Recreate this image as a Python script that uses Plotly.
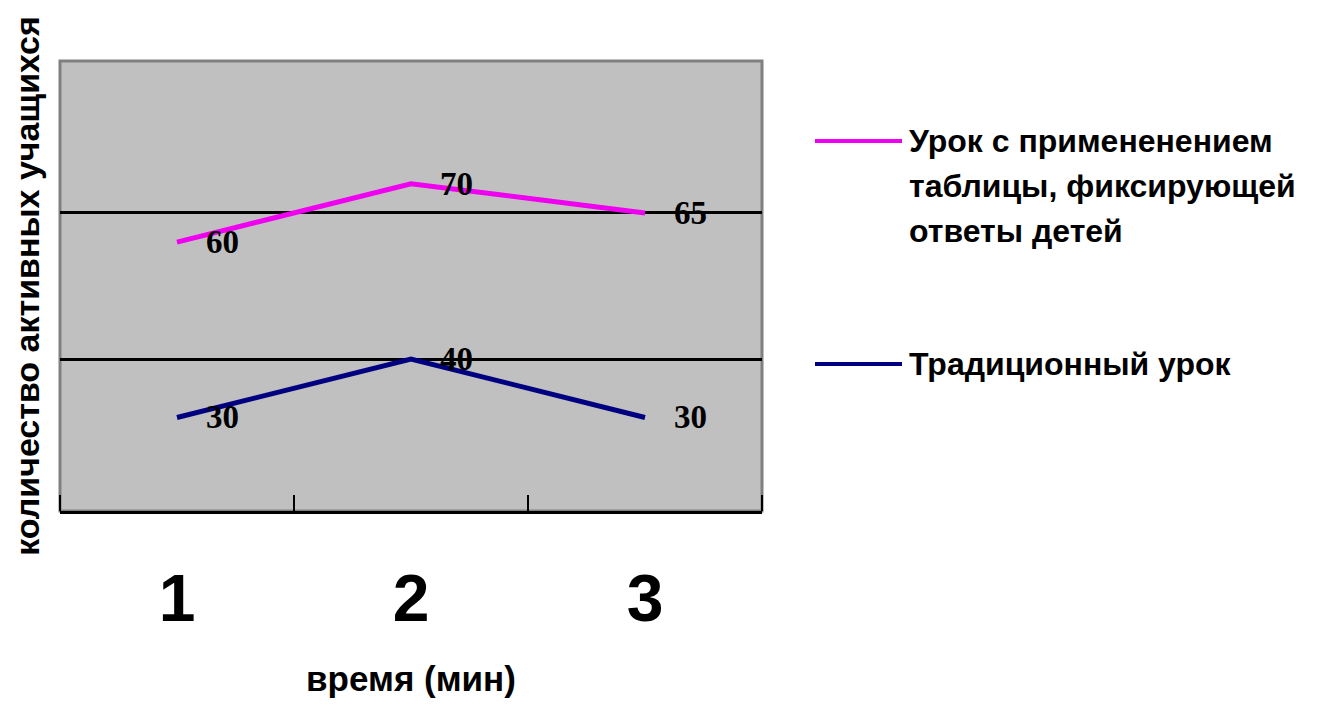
import plotly.graph_objects as go

# ---- data ----
categories = ["1", "2", "3"]
series_names = [
    "Урок с примененением<br>таблицы, фиксирующей<br>ответы детей",
    "Традиционный урок",
]
table_lesson = [60, 70, 65]
traditional_lesson = [30, 40, 30]
y_gridlines = [40, 65]
x_title = "время (мин)"
y_title = "количество активных учащихся"

colors = ["#F000F0", "#000080"]
series_values = [table_lesson, traditional_lesson]

# category positions on a numeric axis (1..n) so category boundaries get ticks
x_pos = list(range(1, len(categories) + 1))
boundaries = [p - 0.5 for p in x_pos] + [x_pos[-1] + 0.5]

# page offset of the plotly div (default body margin)
OFF = 8
W, H = 1336 - 2 * OFF, 706 - 2 * OFF
# plot area in reference-page pixels
RL, RR, RT, RB = 60, 762, 61, 511
L, R, T, B = RL - OFF, RR - OFF, RT - OFF, RB - OFF


def px_x(x):
    return (x - RL) / (RR - RL)


def px_y(y):
    return (RB - y) / (RB - RT)


SANS = "Liberation Sans, Arial, sans-serif"
SERIF = "Liberation Serif, Times New Roman, serif"

fig = go.Figure()

for vals, col, name in zip(series_values, colors, series_names):
    fig.add_trace(go.Scatter(
        x=x_pos, y=vals, mode="lines",
        line=dict(color=col, width=5),
        name=name.replace("<br>", " "), showlegend=False,
    ))
    for xp, v in zip(x_pos, vals):
        fig.add_annotation(
            x=xp, y=v, text=str(v), showarrow=False,
            xshift=45,
            font=dict(family=SERIF, size=33, color="black", weight="bold"),
        )

# manual legend (Excel-like: long line segment joined to the text)
legend_rows = [141, 364]
line_gap = 45
for name, col, ly in zip(series_names, colors, legend_rows):
    fig.add_shape(
        type="line", xref="paper", yref="paper",
        x0=px_x(815), x1=px_x(902), y0=px_y(ly), y1=px_y(ly),
        line=dict(color=col, width=4),
    )
    for i, part in enumerate(name.split("<br>")):
        fig.add_annotation(
            xref="paper", yref="paper",
            x=px_x(907), y=px_y(ly + i * line_gap), xanchor="left", yanchor="middle",
            text=part, showarrow=False, align="left",
            font=dict(family=SANS, size=32, color="black", weight="bold"),
        )

# plot border (gray on top, left, right)
fig.add_shape(
    type="rect", xref="paper", yref="paper", x0=0, x1=1, y0=0, y1=1,
    line=dict(color="#808080", width=3), fillcolor="rgba(0,0,0,0)", layer="below",
)

fig.update_layout(
    width=W, height=H,
    margin=dict(l=L, r=W - R, t=T, b=H - B, autoexpand=False),
    paper_bgcolor="white",
    plot_bgcolor="#C0C0C0",
    font=dict(family=SANS, color="black"),
    showlegend=False,
    xaxis=dict(
        range=[boundaries[0], boundaries[-1]],
        tickmode="array", tickvals=x_pos, ticktext=categories,
        ticks="",
        minor=dict(tickmode="array", tickvals=boundaries, ticks="inside",
                   ticklen=16, tickwidth=2, tickcolor="black", showgrid=False),
        showline=True, linecolor="black", linewidth=3,
        showgrid=False, zeroline=False,
        tickfont=dict(family=SANS, size=66, color="black", weight="bold"),
        ticklabelstandoff=28,
        title=dict(text=x_title, font=dict(family=SANS, size=35, color="black", weight="bold"), standoff=59),
        automargin=False,
    ),
    yaxis=dict(
        range=[14, 91],
        tickmode="array", tickvals=y_gridlines,
        showticklabels=False, ticks="",
        showgrid=True, gridcolor="black", gridwidth=2.5,
        zeroline=False, showline=False,
        title=dict(text=y_title, font=dict(family=SANS, size=34, color="black", weight="bold"), standoff=10),
        automargin=False,
    ),
)

fig.write_html("out.html")
